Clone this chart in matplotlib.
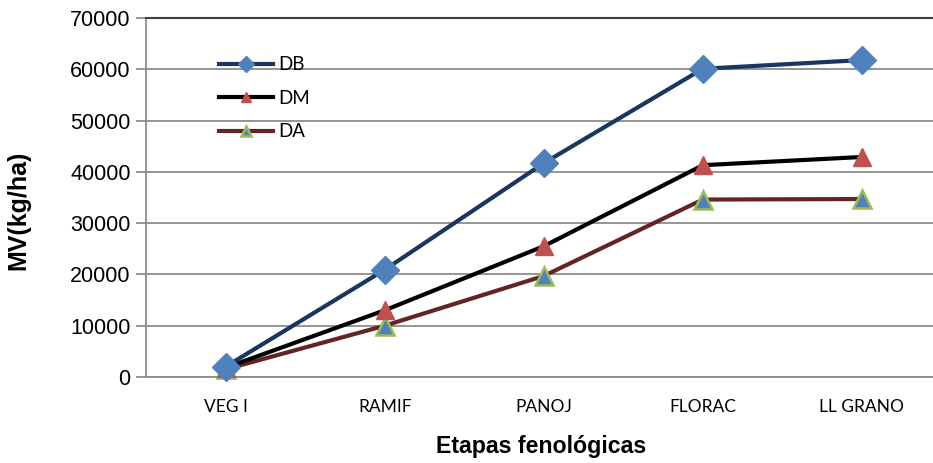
import matplotlib
matplotlib.use("Agg")
import matplotlib.pyplot as plt

categories = ["VEG I", "RAMIF", "PANOJ", "FLORAC", "LL GRANO"]
db = [2000, 20900, 41700, 60100, 61800]
dm = [1800, 13000, 25500, 41300, 42900]
da = [1500, 10000, 19700, 34600, 34700]
yticks = [0, 10000, 20000, 30000, 40000, 50000, 60000, 70000]

W, H = 933, 463
fig = plt.figure(figsize=(W / 100, H / 100), dpi=100)
left, right, top, bottom = 146, 941.5, 18, 377
ax = fig.add_axes([left / W, (H - bottom) / H, (right - left) / W, (bottom - top) / H])
ax.set_xlim(-0.5, 4.5)
ax.set_ylim(0, 70000)

grid_c = "#8c8c8c"
ax.set_yticks(yticks)
ax.set_yticklabels([str(v) for v in yticks], fontsize=15.5, family="Liberation Sans")
ax.yaxis.grid(True, color=grid_c, linewidth=1.3, zorder=0)
ax.tick_params(axis="y", length=7, width=1.3, color=grid_c, pad=4)
ax.set_xticks(range(len(categories)))
ax.set_xticklabels(categories, fontsize=12.5, family="Lato")
ax.tick_params(axis="x", length=0, pad=15.5)

ax.spines["right"].set_visible(False)
ax.spines["top"].set_color("#404040")
ax.spines["top"].set_linewidth(1.5)
ax.spines["left"].set_color(grid_c)
ax.spines["left"].set_linewidth(1.3)
ax.spines["bottom"].set_color(grid_c)
ax.spines["bottom"].set_linewidth(1.3)

x = list(range(len(categories)))
l1, = ax.plot(x, db, color="#17375E", lw=3, marker="D", markersize=14,
              markerfacecolor="#4F81BD", markeredgecolor="#4F81BD", zorder=5, label="DB")
l2, = ax.plot(x, dm, color="#000000", lw=3, marker="^", markersize=13,
              markerfacecolor="#C0504D", markeredgecolor="#C0504D", zorder=4, label="DM")
l3, = ax.plot(x, da, color="#632523", lw=3, marker="^", markersize=13,
              markerfacecolor="#4F81BD", markeredgecolor="#9BBB59", markeredgewidth=1.8,
              zorder=3, label="DA")
for ln in (l1, l2, l3):
    ln.set_clip_on(False)

leg = ax.legend(handles=[l1, l2, l3], loc="upper left", bbox_to_anchor=(0.07, 0.94),
                frameon=False, prop={"family": "Lato", "size": 13.5},
                handlelength=2.9, handletextpad=0.3, labelspacing=0.88,
                markerscale=0.6)

fig.text(18 / W, (H - 210) / H, "MV(kg/ha)", rotation=90, ha="center", va="center",
         fontsize=18, fontweight="bold", family="Liberation Sans")
fig.text(541 / W, (H - 447) / H, "Etapas fenológicas", ha="center", va="center",
         fontsize=16.7, fontweight="bold", family="Liberation Sans")

fig.savefig("out.png", dpi=100)
